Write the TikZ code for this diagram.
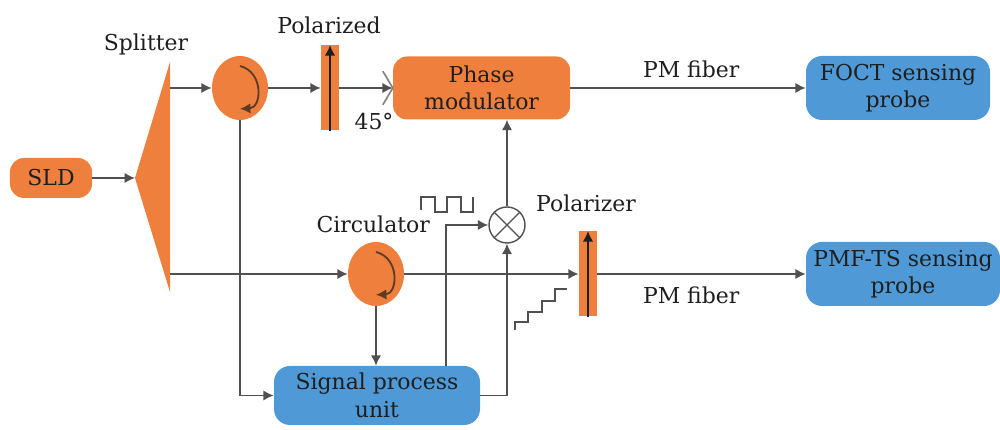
\documentclass[tikz,border=0pt]{standalone}
\usepackage{fontspec}
\setmainfont{DejaVu Serif}
\usepackage{tikz}
\usetikzlibrary{positioning,arrows.meta,calc,shapes.geometric}
\definecolor{boxorange}{HTML}{EF7F3C}
\definecolor{boxblue}{HTML}{4F9AD6}
\definecolor{wire}{HTML}{505050}
\definecolor{ink}{HTML}{1E1E1E}
\tikzset{
    label/.style = {
        text=ink,
        font=\fontsize{15.6}{19.5}\selectfont,
        align=center,
        inner sep=0pt
    },
    orangebox/.style = {
        label,
        shape=rectangle,
        rounded corners=0.35cm,
        fill=boxorange
    },
    bluebox/.style = {
        label,
        shape=rectangle,
        rounded corners=0.4cm,
        fill=boxblue
    },
    circulator/.style = {
        shape=ellipse,
        fill=boxorange,
        inner sep=0pt,
        minimum width=1.4cm,
        minimum height=1.6cm
    },
    polbar/.style = {
        shape=rectangle,
        fill=boxorange,
        inner sep=0pt,
        minimum width=0.45cm,
        minimum height=2.125cm
    },
    mixer/.style = {
        draw=wire,
        shape=circle,
        fill=white,
        inner sep=0pt,
        line width=1pt,
        minimum size=0.9cm
    },
    link/.style = {
        draw=wire,
        line width=1.3pt
    },
    >={Latex[length=2.6mm,width=2.6mm]},
}

\begin{document}
\begin{tikzpicture}
                \useasboundingbox (0,0) rectangle (25,10.75);

                \coordinate (tiptop) at (4.25,9.2);
                \coordinate (tipapex) at (3.375,6.3);
                \coordinate (tipbot) at (4.25,3.45);
                \coordinate (splitup) at (4.25,8.55);
                \coordinate (splitlow) at (4.25,3.9);
                \coordinate (tapsig) at (11.15,1.6);

                \path[fill=boxorange] (tiptop) -- (tipapex) -- (tipbot) -- cycle;

                \node[orangebox, minimum width=2.05cm, minimum height=1cm] (sld) at (1.275,6.3) {SLD};
                \node[circulator] (circ1) at (6,8.55) {};
                \node[circulator] (circ2) at (9.4,3.9) {};
                \node[polbar] (pol1) at (8.25,8.55) {};
                \node[polbar] (pol2) at (14.7,3.9) {};
                \node[orangebox, minimum width=4.425cm, minimum height=1.575cm] (phase) at (12.04,8.55) {Phase\\modulator};
                \node[bluebox, minimum width=4.6cm, minimum height=1.6cm] (foct) at (22.45,8.55) {FOCT sensing\\probe};
                \node[bluebox, minimum width=4.85cm, minimum height=1.6cm] (pmf) at (22.575,3.9) {PMF-TS sensing\\probe};
                \node[bluebox, minimum width=5.15cm, minimum height=1.475cm] (sig) at (9.425,0.8625) {Signal process\\unit};
                \node[mixer] (mix) at (12.675,5.125) {};

                \node[label] (lsplit) at (3.65,9.65) {Splitter};
                \node[label] (lpold) at (8.225,10.12) {Polarized};
                \node[label] (langle) at (9.35,7.7) {45°};
                \node[label] (lfib1) at (17.28,9.02) {PM fiber};
                \node[label] (lfib2) at (17.28,3.37) {PM fiber};
                \node[label] (lcirc) at (9.33,5.14) {Circulator};
                \node[label] (lpolr) at (14.65,5.66) {Polarizer};

                \path[link, ->] (sld) -- (tipapex);
                \path[link, ->] (splitup) -- (circ1);
                \path[link, ->] (circ1) -- (pol1);
                \path[link, ->] (pol1) -- (phase);
                \path[link, ->] (phase) -- (foct);
                \path[link, ->] (splitlow) -- (circ2);
                \path[link, ->, line width=1.7pt] (circ2) -- (pol2);
                \path[link, ->] (pol2) -- (pmf);
                \path[link, ->] (circ1) |- (sig);
                \path[link, ->] (circ2) -- (circ2 |- sig.north);
                \path[link, ->] (tapsig) |- (mix);
                \path[link, ->] (sig) -| (mix);
                \path[link, ->] (mix) -- (mix |- phase.south);

                %crossing marks of the mixer
                \path[draw=wire, line width=0.8pt] (mix.45) -- (mix.225);
                \path[draw=wire, line width=0.8pt] (mix.135) -- (mix.315);

                %polarizer axes
                \path[draw=ink, line width=1pt, ->] (pol1.south) -- (pol1.north);
                \path[draw=ink, line width=1pt, ->] (pol2.south) -- (pol2.north);

                %rotation inside the circulators
                \path[draw=ink!70!boxorange, line width=1.3pt, ->] ($(circ1)+(0,0.55)$) .. controls ($(circ1)+(0.6,0.4)$) and ($(circ1)+(0.55,-0.5)$) .. ($(circ1)+(0,-0.52)$);
                \path[draw=ink!70!boxorange, line width=1.3pt, ->] ($(circ2)+(0,0.55)$) .. controls ($(circ2)+(0.6,0.4)$) and ($(circ2)+(0.55,-0.5)$) .. ($(circ2)+(0,-0.52)$);

                %45 degree mark
                \path[draw=wire!70, line width=1.2pt] ($(phase.west)+(-0.25,0.42)$) -- (phase.west) -- ($(phase.west)+(-0.25,-0.42)$);

                %square wave and staircase
                \path[draw=wire, line width=1.2pt] (10.53,5.5) -- (10.53,5.83) -- (10.87,5.83) -- (10.87,5.45) -- (11.18,5.45) -- (11.18,5.83) -- (11.53,5.83) -- (11.53,5.45) -- (11.83,5.45) -- (11.83,5.83);
                \path[draw=wire, line width=1.2pt] (12.88,2.5) |- (13.2,2.7) |- (13.55,2.95) |- (13.88,3.22) |- (14.18,3.52);
\end{tikzpicture}
\end{document}
